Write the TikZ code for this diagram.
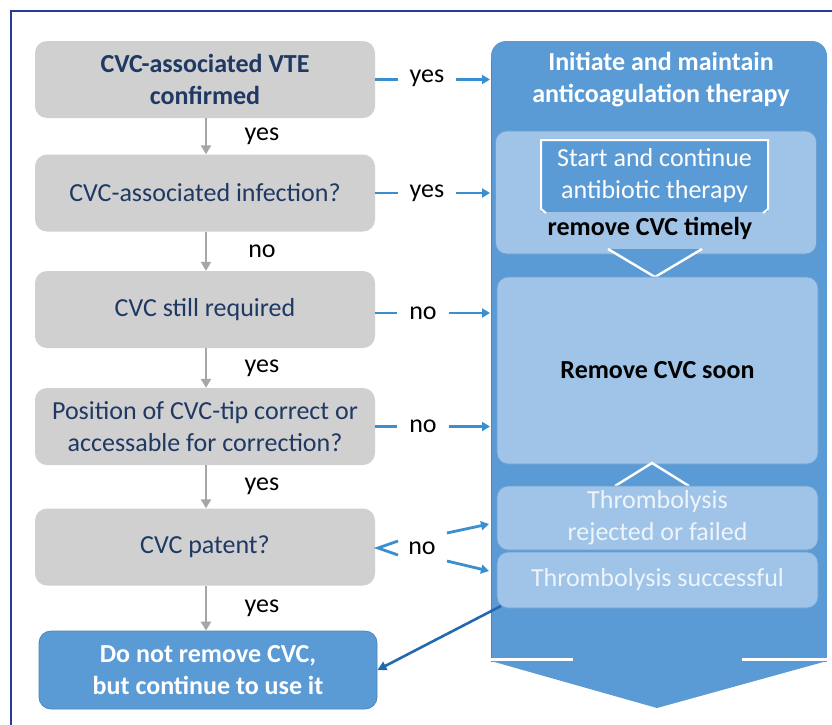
\documentclass[tikz,border=0pt]{standalone}
\usepackage{fontspec}
\setmainfont{Carlito}
\usetikzlibrary{arrows.meta}
\definecolor{bigblue}{HTML}{5B9BD5}
\definecolor{bigedge}{HTML}{4A86C2}
\definecolor{lightblue}{HTML}{9FC4E7}
\definecolor{lightedge}{HTML}{6E9FD0}
\definecolor{boxgray}{HTML}{D0D0D0}
\definecolor{navy}{HTML}{1F3864}
\definecolor{arrowblue}{HTML}{3A8FD0}
\definecolor{darkarrow}{HTML}{2368B0}
\definecolor{framecol}{HTML}{2A3A9A}
\definecolor{paletext}{HTML}{EEF4FB}
\definecolor{arrowgray}{HTML}{A6A6A6}
\begin{document}
\begin{tikzpicture}[x=1pt,y=-1pt,
  every node/.style={font=\fontsize{26}{32}\selectfont},
  graybox/.style={fill=boxgray, rounded corners=12pt, minimum width=340pt, minimum height=77pt, text=navy, align=center, inner sep=0pt},
  innerbox/.style={fill=lightblue, draw=lightedge, line width=0.8pt, rounded corners=11pt, minimum width=321pt, align=center, inner sep=0pt},
  lbl/.style={inner xsep=12pt, inner ysep=0pt, text=black},
  garrow/.style={draw=arrowgray, line width=2.6pt, -{Triangle[length=9pt,width=10pt]}},
  barrow/.style={draw=arrowblue, line width=2.8pt, -{Triangle[length=8pt,width=9pt]}},
  bline/.style={draw=arrowblue, line width=2.8pt},
  chev/.style={draw=white, line width=2.4pt}
]
\useasboundingbox (0,0) rectangle (832,724);
\clip (0,0) rectangle (832,724);
\fill[white] (0,0) rectangle (832,724);
% frame
\draw[framecol, line width=1.4pt] (11,730) -- (11,11) -- (840,11);

% right column: big arrow
\fill[bigblue, rounded corners=15pt] (491,41) rectangle (827,120);
\fill[bigblue] (491,80) rectangle (827,662);
\draw[bigedge, line width=1.2pt] (491.6,662) -- (491.6,60);
\fill[bigblue] (491,661) -- (827,661) -- (657,708) -- cycle;
\draw[white, line width=3.5pt] (491,659.5) -- (573,659.5);
\draw[white, line width=3.5pt] (742,659.5) -- (828,659.5);
\node[text=white, font=\bfseries\fontsize{26}{32}\selectfont, align=center] (head) at (661,80) {Initiate and maintain\\anticoagulation therapy};

% inner boxes
\node[innerbox, minimum height=123pt] (inf) at (656,192.5) {};
\node[fill=bigblue, minimum width=227pt, minimum height=72pt, inner sep=0pt, text=white, align=center] (abx) at (654.5,176) {Start and continue\\antibiotic therapy};
\draw[white, line width=2pt] (546,213) -- (541,209) -- (541,140) -- (768,140) -- (768,209) -- (763,213);
\node[font=\bfseries\fontsize{26}{32}\selectfont] (timely) at (650,228) {remove CVC timely};
\fill[bigblue] (608,249) -- (702,249) -- (655,277) -- cycle;
\draw[chev] (608,249) -- (655,277) -- (702,249);

\node[innerbox, minimum height=187pt] (soon) at (657.5,370.5) {};
\node[font=\bfseries\fontsize{26}{32}\selectfont] (soontxt) at (657.5,370) {Remove CVC soon};
\fill[bigblue] (615,487) -- (689,487) -- (652,463) -- cycle;
\draw[chev] (615,486) -- (652,463) -- (689,486);

\node[innerbox, minimum height=64pt, text=paletext] (thr1) at (657.5,518) {Thrombolysis\\rejected or failed};
\node[innerbox, minimum height=56pt, text=paletext] (thr2) at (657.5,580) {Thrombolysis successful};

% left column
\node[graybox, font=\bfseries\fontsize{26}{32}\selectfont] (b1) at (205,79.5) {CVC-associated VTE\\confirmed};
\node[graybox] (b2) at (205,193) {CVC-associated infection?};
\node[graybox] (b3) at (205,309.5) {CVC still required};
\node[graybox] (b4) at (205,426.5) {Position of CVC-tip correct or\\accessable for correction?};
\node[graybox] (b5) at (205,547) {CVC patent?};
\node[fill=bigblue, draw=bigedge, line width=0.8pt, rounded corners=12pt, minimum width=338pt, minimum height=78pt, inner sep=0pt, text=white, align=center, font=\bfseries\fontsize{26}{32}\selectfont] (bot) at (208,670) {Do not remove CVC,\\but continue to use it};

% vertical connectors
\draw[garrow] (b1.south -| 206,0) -- (b2.north -| 206,0) node[midway, xshift=56pt, text=black] (l1) {yes};
\draw[garrow] (b2.south -| 206,0) -- (b3.north -| 206,0) node[midway, xshift=56pt, text=black] (l2) {no};
\draw[garrow] (b3.south -| 206,0) -- (b4.north -| 206,0) node[midway, xshift=56pt, text=black] (l3) {yes};
\draw[garrow] (b4.south -| 206,0) -- (b5.north -| 206,0) node[midway, xshift=56pt, text=black] (l4) {yes};
\draw[garrow] (b5.south -| 206,0) -- (bot.north -| 206,0) node[midway, xshift=56pt, text=black] (l5) {yes};

% horizontal connectors
\coordinate (t1) at (490,79.5);
\coordinate (t2) at (490,193);
\coordinate (t3) at (490,313);
\coordinate (t4) at (490,426.5);
\node[lbl] (y1) at (427,78) {yes};
\node[lbl] (y2) at (427,193) {yes};
\node[lbl] (n3) at (423,313) {no};
\node[lbl] (n4) at (423,426.5) {no};
\draw[bline] (b1.east |- t1) -- (y1.west |- t1);
\draw[barrow] (y1.east |- t1) -- (t1);
\draw[bline] (b2.east) -- (y2.west);
\draw[barrow] (y2.east) -- (t2);
\draw[bline] (b3.east |- t3) -- (n3.west);
\draw[barrow] (n3.east) -- (t3);
\draw[bline] (b4.east) -- (n4.west);
\draw[barrow] (n4.east) -- (t4);

% row 5
\node[lbl, inner xsep=0pt] (n5) at (422,548) {no};
\coordinate (c5) at (378,548);
\draw[bline] (398,541) -- (c5) -- (398,555);
\coordinate (s5a) at (447,533);
\coordinate (e5a) at (489,524);
\coordinate (s5b) at (447,561);
\coordinate (e5b) at (489,571);
\draw[barrow] (s5a) -- (e5a);
\draw[barrow] (s5b) -- (e5b);

% diagonal back arrow
\coordinate (d0) at (501,606);
\draw[draw=darkarrow, line width=2.6pt, -{Triangle[length=9pt,width=9pt]}] (d0) -- (bot.east);
\end{tikzpicture}
\end{document}
